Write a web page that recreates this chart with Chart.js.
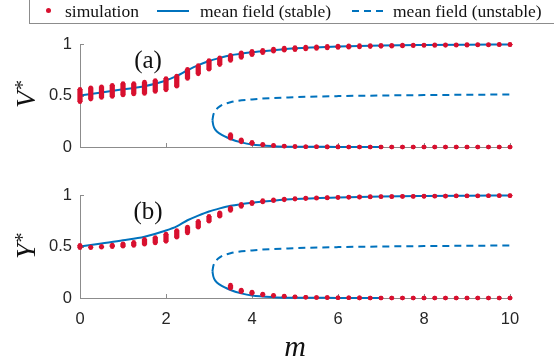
<!DOCTYPE html>
<html>
<head>
<meta charset="utf-8">
<script src="https://cdn.jsdelivr.net/npm/chart.js@4.4.1/dist/chart.umd.min.js"></script>
<style>
body { margin: 0; background: #fff; width: 554px; height: 362px; overflow: hidden; position: relative; }
canvas { position: absolute; left: 0; }
#cTop { top: 0; }
#cBot { top: 175px; }
.lg { position: absolute; font: 17.5px "Liberation Serif", serif; color: #111; line-height: 20px; top: 1px; white-space: nowrap; }
#lgBox { position: absolute; left: 29px; top: -2px; width: 560px; height: 26px; box-sizing: border-box; border: 1px solid #8c8c8c; }
#lgDot { position: absolute; left: 46px; top: 8px; width: 5px; height: 5px; border-radius: 50%; background: #d8102f; }
#lgSolid { position: absolute; left: 157px; top: 10px; width: 32px; height: 2px; background: #0072bd; }
#lgDash { position: absolute; left: 352px; top: 10px; width: 31px; height: 2px;
  background: repeating-linear-gradient(to right, #0072bd 0 7px, transparent 7px 12px); }
</style>
</head>
<body>
<canvas id="cTop" width="554" height="175"></canvas>
<canvas id="cBot" width="554" height="187"></canvas>
<div id="lgBox"></div>
<div id="lgDot"></div>
<span class="lg" style="left:65px">simulation</span>
<div id="lgSolid"></div>
<span class="lg" style="left:200px">mean field (stable)</span>
<div id="lgDash"></div>
<span class="lg" style="left:393px">mean field (unstable)</span>
<script>
const red = '#d8102f';
const blue = '#0072bd';
const axisColor = '#8c8c8c';

// simulation (m = 0 ... 10 step 0.25), low / high end of the spread
const simM = [0, 0.25, 0.5, 0.75, 1, 1.25, 1.5, 1.75, 2, 2.25, 2.5, 2.75, 3, 3.25, 3.5, 3.75, 4, 4.25, 4.5, 4.75,
  5, 5.25, 5.5, 5.75, 6, 6.25, 6.5, 6.75, 7, 7.25, 7.5, 7.75, 8, 8.25, 8.5, 8.75, 9, 9.25, 9.5, 9.75, 10];
const simVaLo = [0.44, 0.465, 0.48, 0.49, 0.505, 0.515, 0.52, 0.54, 0.555, 0.59, 0.665, 0.71, 0.755, 0.80, 0.84, 0.87, 0.895, 0.915, 0.93, 0.94,
  0.945, 0.952, 0.957, 0.962, 0.966, 0.969, 0.972, 0.975, 0.977, 0.979, 0.981, 0.983, 0.985, 0.986, 0.987, 0.988, 0.989, 0.99, 0.991, 0.992, 0.993];
const simVaHi = [0.56, 0.575, 0.585, 0.60, 0.615, 0.615, 0.63, 0.645, 0.665, 0.69, 0.755, 0.79, 0.84, 0.865, 0.89, 0.915, 0.93, 0.94, 0.952, 0.96,
  0.965, 0.97, 0.974, 0.977, 0.98, 0.982, 0.984, 0.985, 0.987, 0.988, 0.989, 0.99, 0.991, 0.992, 0.993, 0.993, 0.994, 0.995, 0.995, 0.996, 0.996];
const simYbLo = [0.488, 0.488, 0.492, 0.498, 0.502, 0.51, 0.522, 0.535, 0.55, 0.59, 0.632, 0.687, 0.745, 0.793, 0.85, 0.889, 0.915, 0.933, 0.944, 0.953,
  0.96, 0.965, 0.969, 0.972, 0.975, 0.977, 0.979, 0.981, 0.983, 0.984, 0.985, 0.986, 0.987, 0.988, 0.989, 0.99, 0.991, 0.991, 0.992, 0.992, 0.993];
const simYbHi = [0.512, 0.495, 0.502, 0.515, 0.527, 0.54, 0.57, 0.588, 0.62, 0.655, 0.69, 0.744, 0.792, 0.827, 0.876, 0.909, 0.93, 0.945, 0.954, 0.961,
  0.966, 0.97, 0.973, 0.976, 0.978, 0.98, 0.982, 0.984, 0.985, 0.986, 0.987, 0.988, 0.989, 0.99, 0.991, 0.992, 0.992, 0.993, 0.993, 0.994, 0.994];

// simulation, lower branch (m = 3.5 ... 10)
const lowSimM = [3.5, 3.75, 4, 4.25, 4.5, 4.75, 5, 5.25, 5.5, 5.75, 6, 6.25, 6.5, 6.75, 7, 7.25, 7.5, 7.75, 8, 8.25, 8.5, 8.75, 9, 9.25, 9.5, 9.75, 10];
const lowSimVaLo = [0.085, 0.05, 0.033, 0.02, 0.012, 0.007, 0.004, 0.003, 0.002, 0.001, 0.001, 0, 0, 0, 0, 0, 0, 0, 0, 0, 0, 0, 0, 0, 0, 0, 0];
const lowSimVaHi = [0.12, 0.07, 0.045, 0.027, 0.016, 0.009, 0.005, 0.003, 0.002, 0.001, 0.001, 0, 0, 0, 0, 0, 0, 0, 0, 0, 0, 0, 0, 0, 0, 0, 0];
const lowSimYbLo = [0.095, 0.06, 0.045, 0.03, 0.021, 0.015, 0.01, 0.007, 0.005, 0.004, 0.003, 0.002, 0.001, 0, 0, 0, 0, 0, 0, 0, 0, 0, 0, 0, 0, 0, 0];
const lowSimYbHi = [0.125, 0.078, 0.058, 0.038, 0.026, 0.018, 0.012, 0.008, 0.005, 0.004, 0.003, 0.002, 0.001, 0, 0, 0, 0, 0, 0, 0, 0, 0, 0, 0, 0, 0, 0];

// mean field, upper stable branch
const mfM = [0, 0.5, 1, 1.5, 2, 2.25, 2.5, 2.75, 3, 3.25, 3.5, 4, 4.5, 5, 6, 7, 8, 9, 10];
const mfVa = [0.5, 0.53, 0.56, 0.59, 0.645, 0.69, 0.745, 0.795, 0.835, 0.865, 0.89, 0.92, 0.94, 0.958, 0.975, 0.985, 0.99, 0.993, 0.995];
const mfYb = [0.5, 0.53, 0.56, 0.595, 0.655, 0.695, 0.755, 0.80, 0.84, 0.87, 0.895, 0.925, 0.945, 0.96, 0.975, 0.985, 0.99, 0.993, 0.995];

// mean field, lower stable branch
const stableLowM = [3.08, 3.1, 3.15, 3.25, 3.5, 3.75, 4, 4.5, 5, 6, 7];
const stableLowVa = [0.26, 0.21, 0.166, 0.13, 0.078, 0.045, 0.024, 0.008, 0.003, 0.001, 0];
const stableLowYb = [0.26, 0.21, 0.166, 0.13, 0.078, 0.045, 0.024, 0.008, 0.003, 0.001, 0];

// mean field, unstable branch
const unstableM = [3.08, 3.1, 3.15, 3.25, 3.5, 4, 5, 6, 7, 8, 9, 10];
const unstableVa = [0.26, 0.31, 0.354, 0.395, 0.435, 0.462, 0.484, 0.494, 0.5, 0.504, 0.507, 0.51];
const unstableYb = [0.26, 0.31, 0.354, 0.395, 0.435, 0.462, 0.484, 0.494, 0.5, 0.504, 0.507, 0.51];

const xTicks = [0, 2, 4, 6, 8, 10];
const yTicks = [0, 0.5, 1];

const pts = (xs, ys) => xs.map((m, i) => ({ x: m, y: ys[i] }));
const spans = (xs, lo, hi) => xs.map((m, i) => ({ x: m, y: [lo[i], hi[i]] }));

const decor = {
  id: 'decor',
  beforeDatasetsDraw(chart) {
    const { ctx, chartArea: a, scales: { x, y } } = chart;
    ctx.save();
    ctx.strokeStyle = axisColor;
    ctx.lineWidth = 1;
    ctx.beginPath();
    xTicks.forEach(v => {
      const px = Math.round(x.getPixelForValue(v)) + 0.5;
      ctx.moveTo(px, a.bottom);
      ctx.lineTo(px, a.bottom - 4);
    });
    yTicks.forEach(v => {
      const py = Math.round(y.getPixelForValue(v)) + 0.5;
      ctx.moveTo(a.left, py);
      ctx.lineTo(a.left + 4, py);
    });
    ctx.stroke();
    ctx.restore();
  },
  afterDraw(chart, args, o) {
    const { ctx, chartArea: a } = chart;
    ctx.save();
    ctx.fillStyle = '#111';
    // y label with superscript star
    ctx.translate(a.left - 45, a.top + 64);
    ctx.rotate(-Math.PI / 2);
    ctx.font = 'italic 28px "Liberation Serif"';
    ctx.textAlign = 'left';
    ctx.textBaseline = 'alphabetic';
    ctx.fillText(o.ylabel, 0, 0);
    const w = ctx.measureText(o.ylabel).width;
    ctx.font = '20px "Liberation Serif"';
    ctx.fillText('*', w + 1, -6);
    ctx.restore();

    ctx.save();
    ctx.fillStyle = '#111';
    ctx.font = '25px "Liberation Serif"';
    ctx.textAlign = 'center';
    ctx.textBaseline = 'middle';
    ctx.fillText(o.panel, a.left + 68, a.top + 17);
    if (o.xlabel) {
      ctx.font = 'italic 30px "Liberation Serif"';
      ctx.textBaseline = 'alphabetic';
      ctx.fillText(o.xlabel, (a.left + a.right) / 2, a.bottom + 58);
    }
    ctx.restore();
  }
};

function makeChart(id, cfg) {
  const datasets = [
    { type: 'bar', data: spans(simM, cfg.simLo, cfg.simHi), backgroundColor: red, barThickness: 4.6, grouped: false, borderWidth: 0, order: 0, clip: false },
    { type: 'bar', data: spans(lowSimM, cfg.lowLo, cfg.lowHi), backgroundColor: red, barThickness: 4.6, grouped: false, borderWidth: 0, order: 0, clip: false },
    { type: 'scatter', data: pts(simM, cfg.simLo).concat(pts(simM, cfg.simHi), pts(lowSimM, cfg.lowLo), pts(lowSimM, cfg.lowHi)),
      pointRadius: 2.3, pointBackgroundColor: red, pointBorderWidth: 0, showLine: false, order: 0, clip: false },
    { type: 'scatter', data: pts(mfM, cfg.mf), showLine: true, borderColor: blue, borderWidth: 2, pointRadius: 0,
      cubicInterpolationMode: 'monotone', order: 1, clip: false },
    { type: 'scatter', data: pts(stableLowM, cfg.stLow), showLine: true, borderColor: blue, borderWidth: 2, pointRadius: 0,
      cubicInterpolationMode: 'monotone', order: 1, clip: false },
    { type: 'scatter', data: pts(unstableM, cfg.unst), showLine: true, borderColor: blue, borderWidth: 2, borderDash: [7, 5], pointRadius: 0,
      cubicInterpolationMode: 'monotone', order: 1, clip: false }
  ];
  return new Chart(id, {
    type: 'scatter',
    data: { datasets },
    options: {
      responsive: false,
      animation: false,
      layout: { padding: cfg.padding },
      plugins: { legend: { display: false }, tooltip: { enabled: false }, decor: cfg.decor },
      scales: {
        x: {
          type: 'linear', min: 0, max: 10, offset: false,
          afterBuildTicks: s => { s.ticks = xTicks.map(v => ({ value: v })); },
          afterFit: s => { s.height = cfg.xHeight; },
          grid: { display: false, drawTicks: false },
          border: { display: true, color: axisColor, width: 1 },
          ticks: { display: cfg.xLabels, padding: 12, color: '#262626', font: { family: 'Liberation Sans', size: 16.5 },
            callback: v => String(v) }
        },
        y: {
          type: 'linear', min: 0, max: 1,
          afterBuildTicks: s => { s.ticks = yTicks.map(v => ({ value: v })); },
          afterFit: s => { s.width = 80; },
          grid: { display: false, drawTicks: false },
          border: { display: true, color: axisColor, width: 1 },
          ticks: { padding: 8, color: '#262626', font: { family: 'Liberation Sans', size: 16.5 },
            callback: v => String(v) }
        }
      }
    },
    plugins: [decor]
  });
}

makeChart('cTop', {
  simLo: simVaLo, simHi: simVaHi, lowLo: lowSimVaLo, lowHi: lowSimVaHi,
  mf: mfVa, stLow: stableLowVa, unst: unstableVa,
  padding: { left: 0, right: 44, top: 44, bottom: 18 }, xHeight: 10, xLabels: false,
  decor: { ylabel: 'V', panel: '(a)' }
});
makeChart('cBot', {
  simLo: simYbLo, simHi: simYbHi, lowLo: lowSimYbLo, lowHi: lowSimYbHi,
  mf: mfYb, stLow: stableLowYb, unst: unstableYb,
  padding: { left: 0, right: 44, top: 20, bottom: 24 }, xHeight: 40, xLabels: true,
  decor: { ylabel: 'Y', panel: '(b)', xlabel: 'm' }
});
</script>
</body>
</html>
